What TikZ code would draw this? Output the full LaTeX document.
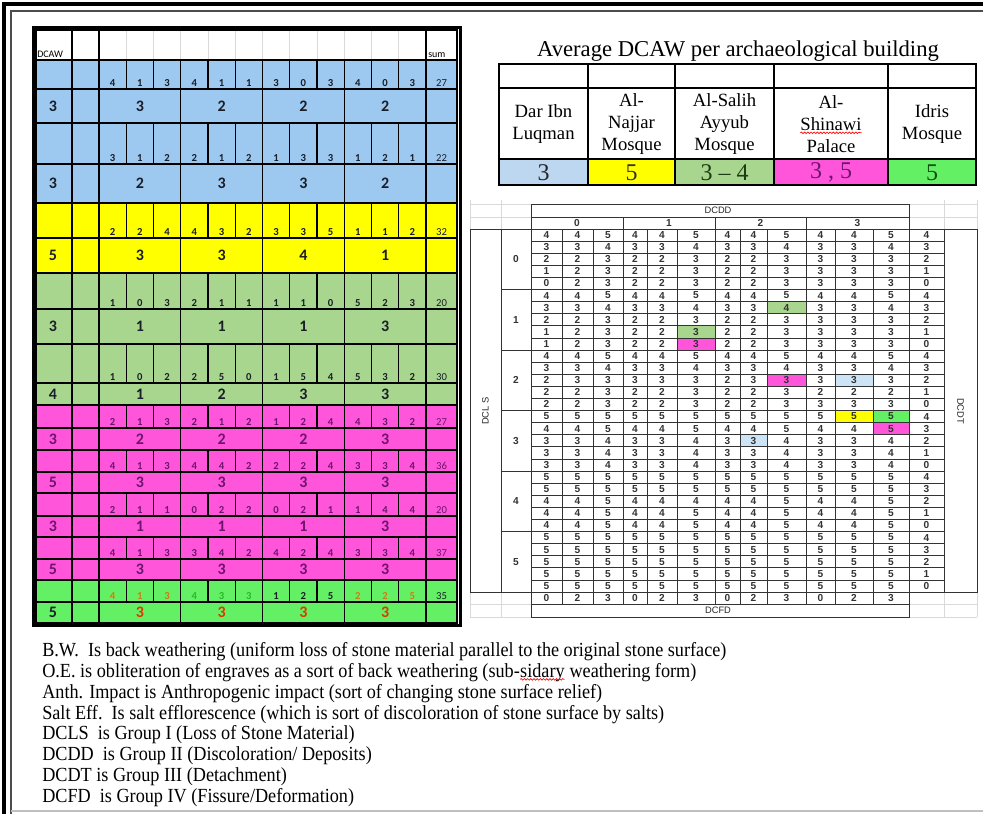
\documentclass[tikz,border=0pt]{standalone}
\usepackage{fontspec}
\setmainfont{Liberation Serif}
\newfontfamily\calfont{Carlito}
\newfontfamily\arialfont{Liberation Sans}
\newfontfamily\notefont[FakeStretch=0.91]{Liberation Serif}
\usetikzlibrary{decorations.pathmorphing}
\definecolor{cblue}{RGB}{157,200,240}
\definecolor{cyel}{RGB}{255,255,0}
\definecolor{clgreen}{RGB}{169,214,142}
\definecolor{cpink}{RGB}{255,85,218}
\definecolor{cbgreen}{RGB}{100,240,100}
\definecolor{tblue}{RGB}{190,215,240}
\definecolor{mblue}{RGB}{205,228,246}
\definecolor{tpurple}{RGB}{110,20,110}
\definecolor{tdark}{RGB}{25,30,40}
\definecolor{corange}{RGB}{205,125,20}
\definecolor{cgtxt}{RGB}{40,185,40}
\definecolor{cred}{RGB}{215,60,0}
\tikzset{
  tline/.style={line width=0.9pt, black},
  snum/.style={anchor=base, inner sep=0pt, font=\calfont\bfseries\fontsize{8}{9}\selectfont},
  sumnum/.style={anchor=base, inner sep=0pt, font=\calfont\fontsize{8}{9}\selectfont},
  bnum/.style={inner sep=0pt, font=\calfont\bfseries\fontsize{12}{14}\selectfont},
  mnum/.style={inner sep=0pt, font=\arialfont\bfseries\fontsize{7.6}{8}\selectfont, text=black!80},
  mlab/.style={inner sep=0pt, font=\arialfont\fontsize{7}{8}\selectfont, text=black!85},
  mline/.style={line width=0.6pt, black!80},
  ggrid/.style={line width=0.5pt, black!15},
  notetext/.style={anchor=base west, inner sep=0pt, font=\notefont\fontsize{15}{17}\selectfont},
  tname/.style={align=center, inner sep=0pt, font=\fontsize{14}{16.7}\selectfont},
  tval/.style={inner sep=0pt, font=\fontsize{18}{20}\selectfont},
}
\newcommand\spellmark[1]{\tikz[baseline=(sp.base)]{\node[inner sep=0pt,outer sep=0pt,anchor=base](sp){#1};\draw[red,line width=0.5pt,decorate,decoration={snake,amplitude=0.6pt,segment length=2.4pt}] ([yshift=-1.8pt]sp.base west) -- ([yshift=-1.8pt]sp.base east);}}
\newcommand\SmallRow[4]{%
  \foreach \v [count=\i] in {#3}
    \node[snum,text=#2] at ({99+(\i-0.5)*27.25},#1-3) {\v};
  \node[sumnum,text=#2] at (441.5,#1-3) {#4};
}
\newcommand\BigRow[4]{%
  \node[bnum,text=#2] at (53,#1) {#3};
  \foreach \v [count=\i] in {#4}
    \node[bnum,text=#2] at ({99+(\i-0.5)*81.75},#1) {\v};
}
\def\mx{{531,562,593,623,647,677,715,740,767,806,835,873,909,944}}
\newcommand\MRow[2]{%
  \foreach \v [count=\i] in {#2}{
    \pgfmathsetmacro\cxa{\mx[\i-1]}\pgfmathsetmacro\cxb{\mx[\i]}
    \node[mnum] at ({(\cxa+\cxb)/2},{229+(#1-0.5)*12.1}) {\v};
  }
}
\newcommand\Hl[3]{%
  \pgfmathsetmacro\hxa{\mx[#1-1]}\pgfmathsetmacro\hxb{\mx[#1]}
  \fill[#3] (\hxa,{229+(#2-1)*12.1}) rectangle (\hxb,{229+#2*12.1});
}
\begin{document}
\begin{tikzpicture}[x=0.75pt,y=-0.75pt]
\useasboundingbox (0,0) rectangle (983,814);
\fill[white] (0,0) rectangle (983,814);
% page frame
\draw[line width=3pt] (4,814) -- (4,4) -- (983,4);
\draw[line width=0.8pt,black!70] (11,814) -- (11,11) -- (983,11);
\draw[line width=0.8pt,black!25] (11,811) -- (983,811);

% ================= LEFT TABLE =================
\fill[cblue] (36,60) rectangle (457,203);
\fill[cyel] (36,203) rectangle (457,273);
\fill[clgreen] (36,273) rectangle (457,405);
\fill[cpink] (36,405) rectangle (457,580);
\fill[cbgreen] (36,580) rectangle (457,623);
\foreach \i in {1,...,11} \draw[ggrid] ({99+\i*27.25},30) -- ({99+\i*27.25},60);
\foreach \yy in {60,89,123,164,203,238,273,309,344,383,405,428,450,472,493,516,537,559,580,602}
  \draw[tline] (36,\yy) -- (457,\yy);
\foreach \xx in {72,99,426} \draw[tline] (\xx,30) -- (\xx,623);
\foreach \ya/\yb in {60/89,123/164,203/238,273/309,344/383,405/428,450/472,493/516,537/559,580/602}
  \foreach \i in {1,...,11} \draw[tline] ({99+\i*27.25},\ya) -- ({99+\i*27.25},\yb);
\foreach \ya/\yb in {89/123,164/203,238/273,309/344,383/405,428/450,472/493,516/537,559/580,602/623}
  \foreach \i in {3,6,9} \draw[tline] ({99+\i*27.25},\ya) -- ({99+\i*27.25},\yb);
\draw[line width=0.8pt] (36,30) rectangle (457,623);
\draw[line width=2.2pt] (33.5,27.5) rectangle (460.5,625.5);
\node[anchor=base west,inner sep=0pt,font=\calfont\fontsize{7.5}{8}\selectfont] (dcaw) at (37,57) {DCAW};
\node[anchor=base west,inner sep=0pt,font=\calfont\fontsize{7.5}{8}\selectfont] (sum) at (428,57) {sum};

\SmallRow{89}{tdark}{4,1,3,4,1,1,3,0,3,4,0,3}{27}
\BigRow{106}{tdark}{3}{3,2,2,2}
\SmallRow{164}{tdark}{3,1,2,2,1,2,1,3,3,1,2,1}{22}
\BigRow{183.5}{tdark}{3}{2,3,3,2}
\SmallRow{238}{tdark}{2,2,4,4,3,2,3,3,5,1,1,2}{32}
\BigRow{255.5}{tdark}{5}{3,3,4,1}
\SmallRow{309}{tdark}{1,0,3,2,1,1,1,1,0,5,2,3}{20}
\BigRow{326.5}{tdark}{3}{1,1,1,3}
\SmallRow{383}{tdark}{1,0,2,2,5,0,1,5,4,5,3,2}{30}
\BigRow{394}{tdark}{4}{1,2,3,3}
\SmallRow{428}{tpurple}{2,1,3,2,1,2,1,2,4,4,3,2}{27}
\BigRow{439}{tpurple}{3}{2,2,2,3}
\SmallRow{472}{tpurple}{4,1,3,4,4,2,2,2,4,3,3,4}{36}
\BigRow{482.5}{tpurple}{5}{3,3,3,3}
\SmallRow{516}{tpurple}{2,1,1,0,2,2,0,2,1,1,4,4}{20}
\BigRow{526.5}{tpurple}{3}{1,1,1,3}
\SmallRow{559}{tpurple}{4,1,3,3,4,2,4,2,4,3,3,4}{37}
\BigRow{569.5}{tpurple}{5}{3,3,3,3}
\foreach \v/\c [count=\i] in {4/corange,1/corange,3/corange,4/cgtxt,3/cgtxt,3/cgtxt,1/tdark,2/tdark,5/tdark,2/corange,2/corange,5/corange}
  \node[snum,text=\c] at ({99+(\i-0.5)*27.25},599) {\v};
\node[sumnum,text=tdark] at (441.5,599) {35};
\node[bnum,text=tdark] at (53,612.5) {5};
\foreach \i in {1,...,4} \node[bnum,text=cred] at ({99+(\i-0.5)*81.75},612.5) {3};

% ================= TITLE & TOP-RIGHT TABLE =================
\node[anchor=base,inner sep=0pt,font=\fontsize{17}{20}\selectfont] (title) at (738,56) {Average DCAW per archaeological building};
\fill[tblue] (499,159) rectangle (588,185);
\fill[cyel] (588,159) rectangle (675,185);
\fill[clgreen] (675,159) rectangle (774,185);
\fill[cpink] (774,159) rectangle (888,185);
\fill[cbgreen] (888,159) rectangle (976,185);
\draw[line width=1pt] (499,88) -- (976,88) (499,159) -- (976,159);
\foreach \xx in {588,675,774,888} \draw[line width=1pt] (\xx,64) -- (\xx,185);
\draw[line width=1.2pt] (499,64) rectangle (976,185);
\node[tname] (b1) at (543.5,124) {Dar Ibn\\Luqman};
\node[tname] (b2) at (631.5,124) {Al-\\Najjar\\Mosque};
\node[tname] (b3) at (724.5,124) {Al-Salih\\Ayyub\\Mosque};
\node[tname] (b4) at (831,124) {Al-\\\spellmark{Shinawi}\\Palace};
\node[tname] (b5) at (932,124) {Idris\\Mosque};
\node[tval,text=black!85] (v1) at (543.5,172.5) {3};
\node[tval,text=black!80] (v2) at (631.5,172.5) {5};
\node[tval,text={rgb,255:red,30;green,60;blue,20}] (v3) at (724.5,172.5) {3 -- 4};
\node[tval,text=tpurple] (v4) at (831,172.5) {3 , 5};
\node[tval,text={rgb,255:red,20;green,80;blue,20}] (v5) at (932,172.5) {5};

% ================= MATRIX =================
% light grid
\foreach \yy in {204,217,229} {\draw[ggrid] (470,\yy) -- (531,\yy); \draw[ggrid] (909,\yy) -- (977,\yy);}
\foreach \xx in {470,501,944,977} \draw[ggrid] (\xx,200) -- (\xx,229);
\foreach \yy in {604,617} {\draw[ggrid] (470,\yy) -- (531,\yy); \draw[ggrid] (909,\yy) -- (977,\yy);}
\foreach \xx in {470,501,944,977} \draw[ggrid] (\xx,592) -- (\xx,617);
% highlights
\Hl{9}{7}{clgreen}
\Hl{6}{9}{clgreen}
\Hl{6}{10}{cpink}
\Hl{9}{13}{cpink}
\Hl{11}{13}{mblue}
\Hl{11}{16}{cyel}
\Hl{12}{16}{cbgreen}
\Hl{12}{17}{cpink}
\Hl{8}{18}{mblue}
% cell lines
\foreach \r in {0,...,30} \draw[mline] (531,{229+\r*12.1}) -- (944,{229+\r*12.1});
\foreach \xx in {531,562,593,623,647,677,715,740,767,806,835,873,909,944} \draw[mline] (\xx,229) -- (\xx,592);
\foreach \b in {0,...,6} \draw[mline] (501,{229+\b*60.5}) -- (531,{229+\b*60.5});
\draw[mline] (470,229) rectangle (501,592);
\draw[mline] (944,229) rectangle (977,592);
% header
\draw[mline] (531,204) rectangle (909,229);
\draw[mline] (531,217) -- (909,217);
\foreach \xx in {623,715,806} \draw[mline] (\xx,217) -- (\xx,229);
\node[mlab] (dcdd) at (718,210.5) {DCDD};
\foreach \v/\xc in {0/577,1/669,2/760.5,3/857.5} \node[mnum] at (\xc,223) {\v};
% bottom
\draw[mline] (531,592) rectangle (909,617);
\draw[mline] (531,604) -- (909,604);
\foreach \xx in {562,593,623,647,677,715,740,767,806,835,873} \draw[mline] (\xx,592) -- (\xx,604);
\node[mlab] (dcfd) at (718,610.5) {DCFD};
\foreach \v [count=\i] in {0,2,3,0,2,3,0,2,3,0,2,3}{
  \pgfmathsetmacro\cxa{\mx[\i-1]}\pgfmathsetmacro\cxb{\mx[\i]}
  \node[mnum] at ({(\cxa+\cxb)/2},598) {\v};
}
% side labels
\node[mlab,rotate=90] (dcls) at (485.5,411) {DCL S};
\node[mlab,rotate=-90] (dcdt) at (960.5,411) {DCDT};
\foreach \b in {0,...,5} \node[mnum] at (516,{229+(\b*5+2.5)*12.1}) {\b};
% data
\MRow{1}{4,4,5,4,4,5,4,4,5,4,4,5,4}
\MRow{2}{3,3,4,3,3,4,3,3,4,3,3,4,3}
\MRow{3}{2,2,3,2,2,3,2,2,3,3,3,3,2}
\MRow{4}{1,2,3,2,2,3,2,2,3,3,3,3,1}
\MRow{5}{0,2,3,2,2,3,2,2,3,3,3,3,0}
\MRow{6}{4,4,5,4,4,5,4,4,5,4,4,5,4}
\MRow{7}{3,3,4,3,3,4,3,3,4,3,3,4,3}
\MRow{8}{2,2,3,2,2,3,2,2,3,3,3,3,2}
\MRow{9}{1,2,3,2,2,3,2,2,3,3,3,3,1}
\MRow{10}{1,2,3,2,2,3,2,2,3,3,3,3,0}
\MRow{11}{4,4,5,4,4,5,4,4,5,4,4,5,4}
\MRow{12}{3,3,4,3,3,4,3,3,4,3,3,4,3}
\MRow{13}{2,3,3,3,3,3,2,3,3,3,3,3,2}
\MRow{14}{2,2,3,2,2,3,2,2,3,2,2,2,1}
\MRow{15}{2,2,3,2,2,3,2,2,3,3,3,3,0}
\MRow{16}{5,5,5,5,5,5,5,5,5,5,5,5,4}
\MRow{17}{4,4,5,4,4,5,4,4,5,4,4,5,3}
\MRow{18}{3,3,4,3,3,4,3,3,4,3,3,4,2}
\MRow{19}{3,3,4,3,3,4,3,3,4,3,3,4,1}
\MRow{20}{3,3,4,3,3,4,3,3,4,3,3,4,0}
\MRow{21}{5,5,5,5,5,5,5,5,5,5,5,5,4}
\MRow{22}{5,5,5,5,5,5,5,5,5,5,5,5,3}
\MRow{23}{4,4,5,4,4,4,4,4,5,4,4,5,2}
\MRow{24}{4,4,5,4,4,5,4,4,5,4,4,5,1}
\MRow{25}{4,4,5,4,4,5,4,4,5,4,4,5,0}
\MRow{26}{5,5,5,5,5,5,5,5,5,5,5,5,4}
\MRow{27}{5,5,5,5,5,5,5,5,5,5,5,5,3}
\MRow{28}{5,5,5,5,5,5,5,5,5,5,5,5,2}
\MRow{29}{5,5,5,5,5,5,5,5,5,5,5,5,1}
\MRow{30}{5,5,5,5,5,5,5,5,5,5,5,5,0}

% ================= NOTES =================
\node[notetext] (n1) at (42,656) {B.W.\ \ Is back weathering (uniform loss of stone material parallel to the original stone surface)};
\node[notetext] (n2) at (42,677) {O.E. is obliteration of engraves as a sort of back weathering (sub-\spellmark{sidary} weathering form)};
\node[notetext] (n3) at (42,698) {Anth. Impact is Anthropogenic impact (sort of changing stone surface relief)};
\node[notetext] (n4) at (42,719) {Salt Eff.\ \ Is salt efflorescence (which is sort of discoloration of stone surface by salts)};
\node[notetext] (n5) at (42,739) {DCLS\ \ is Group I (Loss of Stone Material)};
\node[notetext] (n6) at (42,760) {DCDD\ \ is Group II (Discoloration/ Deposits)};
\node[notetext] (n7) at (42,781) {DCDT is Group III (Detachment)};
\node[notetext] (n8) at (42,802) {DCFD\ \ is Group IV (Fissure/Deformation)};
\end{tikzpicture}
\end{document}
